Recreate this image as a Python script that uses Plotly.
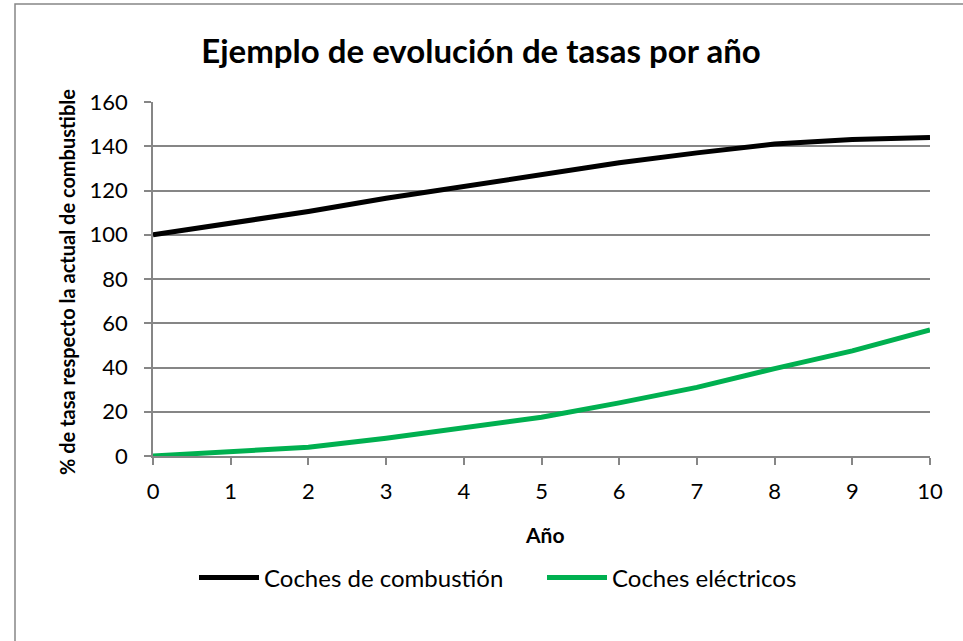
import plotly.graph_objects as go

years = [0, 1, 2, 3, 4, 5, 6, 7, 8, 9, 10]
combustion = [100, 105, 110.5, 116.5, 122, 127.5, 132.5, 137, 141, 143, 144]
electric = [0, 2, 4, 8, 12.5, 17.5, 24, 31, 39.5, 47.5, 57]
series_names = ["Coches de combustión", "Coches eléctricos"]
title_text = "Ejemplo de evolución de tasas por año"
x_title = "Año"
y_title = "% de tasa respecto la actual de combustible"

FONT = "Lato, Carlito, Calibri, 'Open Sans', sans-serif"

# body margin is removed by post_script, so screen coords == figure coords
W, H = 963, 641
SL, ST, SR, SB = 153, 102, 930, 456  # plot area on screen
L, T, R, B = SL, ST, W - SR, H - SB
pw, ph = W - L - R, H - T - B


def px_x(p):
    return (p - SL) / pw


def px_y(p):
    return (SB - p) / ph


fig = go.Figure()
fig.add_trace(go.Scatter(x=years, y=combustion, mode="lines", name=series_names[0],
                         line=dict(color="#000000", width=5), legend="legend"))
fig.add_trace(go.Scatter(x=years, y=electric, mode="lines", name=series_names[1],
                         line=dict(color="#00B050", width=5), legend="legend2"))

fig.add_shape(type="rect", xref="paper", yref="paper",
              x0=px_x(15), x1=px_x(990), y0=px_y(680), y1=px_y(4),
              line=dict(color="#868686", width=1.5), fillcolor="rgba(0,0,0,0)", layer="below")

fig.add_annotation(text="<b>" + y_title + "</b>", xref="paper", yref="paper",
                   x=px_x(67), y=px_y(282), xanchor="center", yanchor="middle",
                   textangle=-90, showarrow=False, font=dict(family=FONT, size=20, color="#000000"))
fig.add_annotation(text="<b>" + x_title + "</b>", xref="paper", yref="paper",
                   x=px_x(544), y=px_y(534), xanchor="center", yanchor="middle",
                   showarrow=False, font=dict(family=FONT, size=21, color="#000000"))

legend_common = dict(orientation="h", xref="container", xanchor="left",
                     yref="container", yanchor="middle", y=1 - 578 / H,
                     font=dict(family=FONT, size=24), itemwidth=60,
                     bgcolor="rgba(0,0,0,0)")

fig.update_layout(
    width=W, height=H,
    margin=dict(l=L, r=R, t=T, b=B),
    paper_bgcolor="white", plot_bgcolor="white",
    font=dict(family=FONT, size=22, color="#000000"),
    title=dict(text="<b>" + title_text + "</b>", x=481 / W, xref="container", xanchor="center",
               y=1 - 51 / H, yanchor="middle", yref="container",
               font=dict(family=FONT, size=33, color="#000000")),
    showlegend=True,
    legend=dict(x=194 / W, **legend_common),
    legend2=dict(x=542 / W, **legend_common),
    xaxis=dict(range=[0, 10], tickmode="array", tickvals=years, ticktext=[str(v) for v in years],
               showgrid=False, zeroline=False, showline=True, linecolor="#868686", linewidth=1.5,
               ticks="outside", ticklen=7, tickcolor="#868686", tickwidth=1.5,
               tickfont=dict(family=FONT, size=22), ticklabelstandoff=8),
    yaxis=dict(range=[0, 160], tickmode="array", tickvals=list(range(0, 161, 20)),
               showgrid=True, gridcolor="#868686", gridwidth=1.5, zeroline=False,
               showline=True, linecolor="#868686", linewidth=1.5,
               ticks="outside", ticklen=7, tickcolor="#868686", tickwidth=1.5,
               tickfont=dict(family=FONT, size=22), ticklabelstandoff=12),
)

fig.write_html("out.html", config={"displayModeBar": False},
               post_script="document.body.style.margin='0px';")
